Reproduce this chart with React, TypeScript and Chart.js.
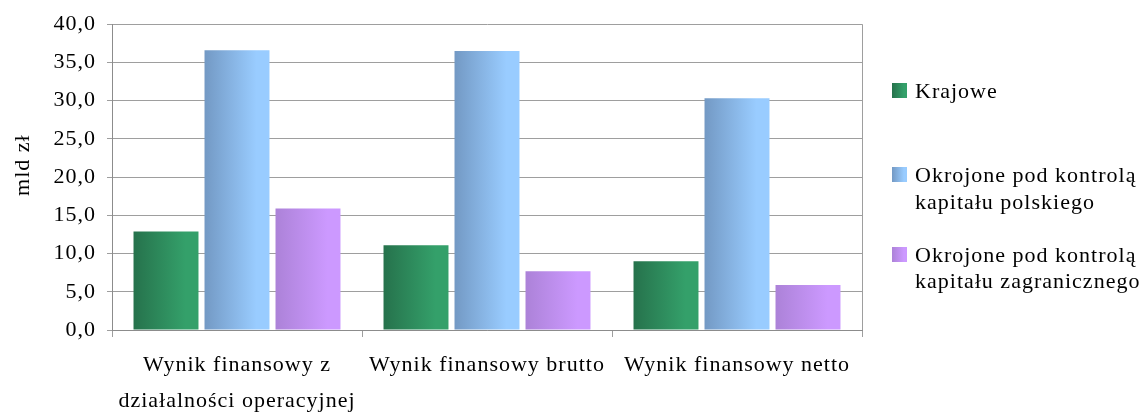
import React, { useEffect, useRef } from 'react';
import { Chart, registerables } from 'chart.js';

Chart.register(...registerables);

// ---- data ----
const categories: (string | string[])[] = [
  ['Wynik finansowy z', 'działalności operacyjnej'],
  'Wynik finansowy brutto',
  'Wynik finansowy netto',
];
const seriesNames = [
  'Krajowe',
  'Okrojone pod kontrolą kapitału polskiego',
  'Okrojone pod kontrolą kapitału zagranicznego',
];
const legendLines = [
  ['Krajowe'],
  ['Okrojone pod kontrolą', 'kapitału polskiego'],
  ['Okrojone pod kontrolą', 'kapitału zagranicznego'],
];
const krajowe = [12.9, 11.1, 9.0];
const kapitalPolski = [36.6, 36.5, 30.3];
const kapitalZagraniczny = [15.9, 7.7, 5.9];
const yMin = 0;
const yMax = 40;
const yStep = 5;
const yTitle = 'mld zł';

// ---- styles ----
const gradients = [
  ['#26724C', '#34A06A'],
  ['#7399C4', '#99CCFF'],
  ['#AC82D8', '#CC99FF'],
];
const FONT = '"Liberation Serif", "Times New Roman", serif';
const GRID = '#9E9E9E';
const AXIS = '#8C8C8C';

const makeGrad = (ctx: CanvasRenderingContext2D, x0: number, x1: number, i: number) => {
  const g = ctx.createLinearGradient(x0, 0, x1, 0);
  g.addColorStop(0, gradients[i][0]);
  g.addColorStop(0.8, gradients[i][1]);
  g.addColorStop(1, gradients[i][1]);
  return g;
};

const spacingPlugin = {
  id: 'spacing',
  beforeUpdate(chart: any) {
    chart.ctx.letterSpacing = '1px';
  },
  beforeDraw(chart: any) {
    chart.ctx.letterSpacing = '1px';
  },
};

const gradientPlugin = {
  id: 'barGradient',
  beforeDatasetsDraw(chart: any) {
    const ctx = chart.ctx;
    chart.data.datasets.forEach((_: any, di: number) => {
      const meta = chart.getDatasetMeta(di);
      meta.data.forEach((el: any) => {
        const half = el.width / 2;
        el.options = Object.assign({}, el.options, {
          backgroundColor: makeGrad(ctx, el.x - half, el.x + half, di),
        });
      });
    });
  },
};

const borderPlugin = {
  id: 'rightBorder',
  beforeDatasetsDraw(chart: any) {
    const { ctx, chartArea } = chart;
    const x = Math.round(chartArea.right) + 0.5;
    ctx.save();
    ctx.strokeStyle = GRID;
    ctx.lineWidth = 1;
    ctx.beginPath();
    ctx.moveTo(x, chartArea.top);
    ctx.lineTo(x, chartArea.bottom);
    ctx.stroke();
    ctx.restore();
  },
};

const axisTitlePlugin = {
  id: 'yAxisTitle',
  afterDraw(chart: any) {
    const ctx = chart.ctx;
    const { chartArea } = chart;
    const cy = (chartArea.top + chartArea.bottom) / 2 - 12;
    ctx.save();
    ctx.letterSpacing = '1px';
    ctx.font = `22px ${FONT}`;
    ctx.fillStyle = '#000';
    ctx.textAlign = 'center';
    ctx.textBaseline = 'middle';
    ctx.translate(23, cy);
    ctx.rotate(-Math.PI / 2);
    ctx.fillText(yTitle, 0, 0);
    ctx.restore();
  },
};

const legendPlugin = {
  id: 'sideLegend',
  afterDraw(chart: any) {
    const ctx = chart.ctx;
    const baselines = [[98], [182, 209], [262, 288]];
    ctx.save();
    ctx.letterSpacing = '1px';
    ctx.font = `22px ${FONT}`;
    ctx.textAlign = 'left';
    ctx.textBaseline = 'alphabetic';
    legendLines.forEach((lines, i) => {
      const top = baselines[i][0] - 15;
      ctx.fillStyle = makeGrad(ctx, 892, 907, i);
      ctx.fillRect(892, top, 15, 15);
      ctx.fillStyle = '#000';
      lines.forEach((t, j) => ctx.fillText(t, 915, baselines[i][j]));
    });
    ctx.restore();
  },
};

export default function App() {
  const ref = useRef<HTMLCanvasElement | null>(null);

  useEffect(() => {
    if (!ref.current) return;
    const series = [krajowe, kapitalPolski, kapitalZagraniczny];
    const chart = new Chart(ref.current, {
      type: 'bar',
      data: {
        labels: categories,
        datasets: series.map((d, i) => ({
          label: seriesNames[i],
          data: d,
          backgroundColor: gradients[i][1],
          borderWidth: 0,
          categoryPercentage: 0.852,
          barPercentage: 0.915,
        })),
      },
      options: {
        responsive: false,
        animation: false,
        events: [],
        layout: { padding: { top: 19, right: 280, left: 0, bottom: 0 } },
        plugins: {
          legend: { display: false },
          tooltip: { enabled: false },
          title: { display: false },
        },
        scales: {
          x: {
            grid: {
              display: true,
              drawOnChartArea: false,
              drawTicks: true,
              tickLength: 7,
              color: GRID,
              offset: true,
            },
            border: { color: AXIS, width: 1 },
            ticks: {
              color: '#000',
              font: { family: FONT, size: 22, lineHeight: 1.6 },
              padding: 11,
              maxRotation: 0,
              minRotation: 0,
              autoSkip: false,
            },
            afterFit(scale: any) {
              scale.height = 82;
            },
          },
          y: {
            min: yMin,
            max: yMax,
            grid: { color: GRID, tickLength: 5, drawTicks: true },
            border: { color: AXIS, width: 1 },
            ticks: {
              stepSize: yStep,
              color: '#000',
              font: { family: FONT, size: 22 },
              padding: 11,
              callback: (v: any) => Number(v).toFixed(1).replace('.', ','),
            },
            title: { display: false },
            afterFit(scale: any) {
              scale.width = 112;
            },
          },
        },
      },
      plugins: [spacingPlugin, gradientPlugin, borderPlugin, axisTitlePlugin, legendPlugin],
    });
    return () => chart.destroy();
  }, []);

  return (
    <div style={{ position: 'absolute', left: 0, top: 0, width: 1142, height: 412, background: '#fff' }}>
      <canvas ref={ref} width={1142} height={412} style={{ display: 'block' }} />
    </div>
  );
}
